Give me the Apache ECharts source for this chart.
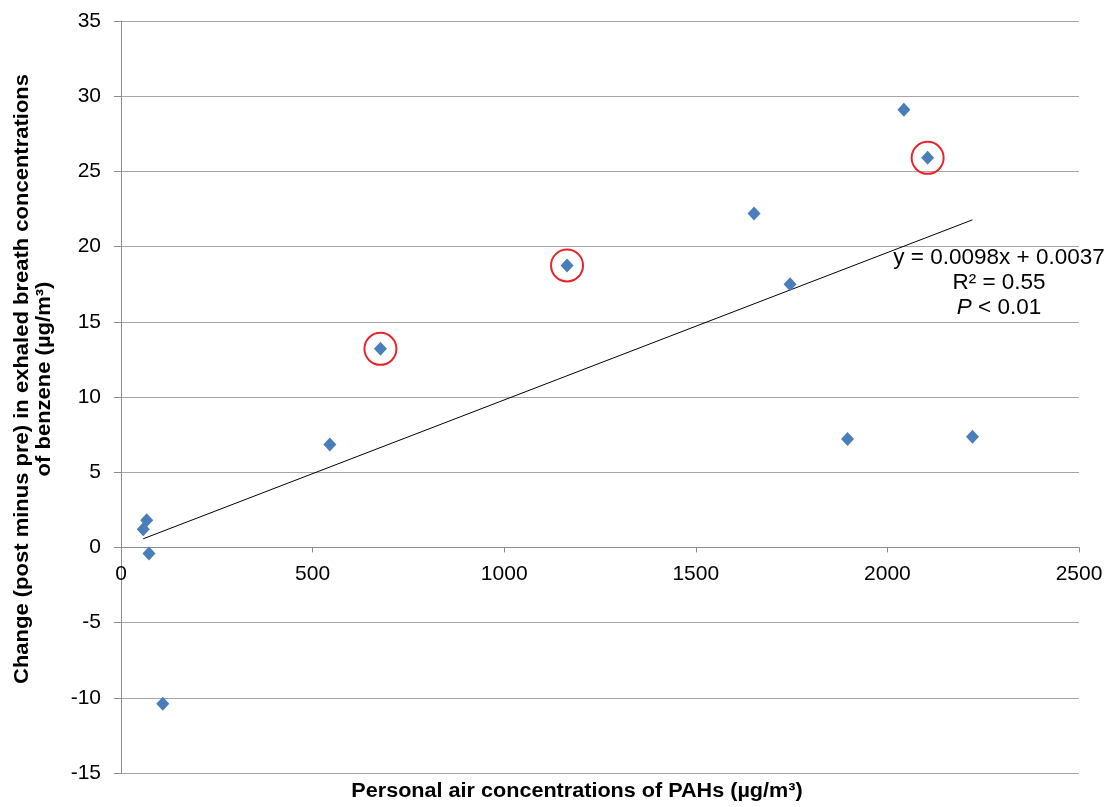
<!DOCTYPE html>
<html>
<head>
<meta charset="utf-8">
<script src="https://cdn.jsdelivr.net/npm/echarts@6/dist/echarts.min.js"></script>
<style>
html,body{margin:0;padding:0;background:#fff;}
#c{width:1117px;height:807px;}
</style>
</head>
<body>
<div id="c"></div>
<script>
// Data
const pahX = [58, 67, 73, 109, 545, 677, 1164, 1652, 1746, 1896, 2043, 2105, 2222];
const benzeneChange = [1.2, 1.8, -0.4, -10.4, 6.85, 13.2, 18.75, 22.2, 17.5, 7.2, 29.1, 25.9, 7.35];
const circledIdx = [5, 6, 11];
const trendSlope = 0.0098;
const trendIntercept = 0.0037;
const xTicks = [0, 500, 1000, 1500, 2000, 2500];
const yTicks = [-15, -10, -5, 0, 5, 10, 15, 20, 25, 30, 35];
const eqLines = ['y = 0.0098x + 0.0037', 'R² = 0.55', 'P < 0.01'];
const xTitle = 'Personal air concentrations of PAHs (µg/m³)';
const yTitle = 'Change (post minus pre) in exhaled breath concentrations\nof benzene (µg/m³)';

const points = pahX.map((x, i) => [x, benzeneChange[i]]);
const circled = circledIdx.map(i => points[i]);
const xMin = Math.min(...pahX), xMax = Math.max(...pahX);
const trend = [[xMin, trendSlope * xMin + trendIntercept], [xMax, trendSlope * xMax + trendIntercept]];

const W = 1117, H = 807;
const G = { left: 121, right: 38, top: 21, bottom: 34 };
const yMin = yTicks[0], yMax = yTicks[yTicks.length - 1];
const gridH = H - G.top - G.bottom;
const zeroOffset = -gridH * (0 - yMin) / (yMax - yMin);

const FONT = 'Liberation Sans, Arial, sans-serif';
const chart = echarts.init(document.getElementById('c'));
chart.setOption({
  animation: false,
  backgroundColor: '#ffffff',
  grid: Object.assign({ containLabel: false, outerBoundsMode: 'none' }, G),
  xAxis: {
    type: 'value', min: xTicks[0], max: xTicks[xTicks.length - 1], interval: 500,
    position: 'bottom', offset: zeroOffset,
    axisLine: { onZero: false, lineStyle: { color: '#8c8c8c', width: 1 } },
    axisTick: { show: true, length: 5, lineStyle: { color: '#8c8c8c' } },
    axisLabel: { color: '#000', fontSize: 21, fontFamily: FONT, margin: 16, formatter: v => String(v) },
    splitLine: { show: false }
  },
  yAxis: {
    type: 'value', min: yMin, max: yMax, interval: 5,
    axisLine: { show: true, onZero: false, lineStyle: { color: '#8c8c8c', width: 1 } },
    axisTick: { show: true, length: 7, lineStyle: { color: '#8c8c8c' } },
    axisLabel: { color: '#000', fontSize: 21, fontFamily: FONT, margin: 20, formatter: v => String(v) },
    splitLine: { show: true, lineStyle: { color: '#a6a6a6', width: 1 } }
  },
  series: [
    {
      type: 'line', data: trend, symbol: 'none', silent: true,
      lineStyle: { color: '#000', width: 1 }, z: 2
    },
    {
      type: 'scatter', data: points, symbol: 'diamond', symbolSize: [13, 14],
      itemStyle: { color: '#4a7ebb', opacity: 1 }, z: 3
    },
    {
      type: 'scatter', data: circled, symbol: 'circle', symbolSize: 32,
      itemStyle: { color: 'rgba(0,0,0,0)', borderColor: '#e8242a', borderWidth: 2, opacity: 1 }, z: 4
    }
  ],
  graphic: [
    {
      type: 'text', x: 577, y: 791, scaleX: 1.08,
      style: { text: xTitle, fill: '#000', font: 'bold 20px ' + FONT, align: 'center', verticalAlign: 'middle' }
    },
    {
      type: 'text', x: 33, y: 379, rotation: Math.PI / 2, scaleX: 1.1,
      style: { text: yTitle, fill: '#000', font: 'bold 20px ' + FONT, align: 'center', verticalAlign: 'middle', lineHeight: 22 }
    },
    {
      type: 'text', x: 999, y: 245,
      style: {
        text: '{n|' + eqLines[0] + '}\n{n|' + eqLines[1] + '}\n{i|P}{n| < 0.01}',
        align: 'center',
        rich: {
          n: { fontSize: 22.5, fontFamily: FONT, fill: '#000', lineHeight: 25 },
          i: { fontSize: 22.5, fontFamily: FONT, fontStyle: 'italic', fill: '#000', lineHeight: 25 }
        }
      }
    }
  ]
});
</script>
</body>
</html>
